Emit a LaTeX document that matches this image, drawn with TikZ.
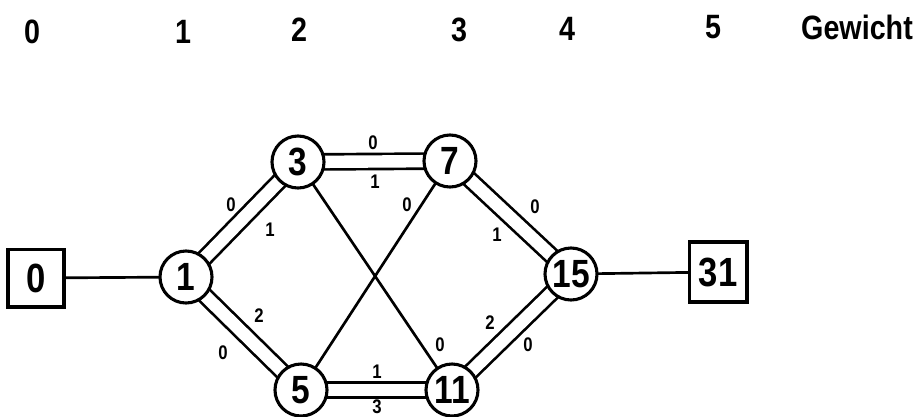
\documentclass[tikz,border=0pt]{standalone}
\usepackage{fontspec}
\setmainfont{Liberation Sans}[FakeStretch=0.85]
\usetikzlibrary{backgrounds}
\begin{document}
\begin{tikzpicture}[x=0.025cm,y=-0.025cm,
  circ/.style={circle,draw,line width=2.2pt,fill=white,minimum size=1.3cm,inner sep=0pt,
    font=\fontsize{28}{28}\selectfont\bfseries},
  sq/.style={rectangle,draw,line width=2.7pt,fill=white,inner sep=0pt,
    font=\fontsize{29}{29}\selectfont\bfseries},
  hdr/.style={font=\fontsize{24}{24}\selectfont\bfseries,inner sep=0pt},
  lbl/.style={font=\fontsize{14}{14}\selectfont\bfseries,inner sep=0pt},
  dbl/.style={double,line width=1.9pt,double distance=0.31cm},
  sgl/.style={line width=1.9pt}]
\useasboundingbox (0,0) rectangle (924,416);

% header
\node[hdr] (h0) at (32,32) {0};
\node[hdr] (h1) at (183,32) {1};
\node[hdr] (h2) at (299,30) {2};
\node[hdr] (h3) at (459,30) {3};
\node[hdr] (h4) at (567,29) {4};
\node[hdr] (h5) at (713,27) {5};
\node[hdr] (hg) at (857,27) {Gewicht};

% nodes
\node[sq,minimum width=1.38cm,minimum height=1.43cm] (b0) at (36,278) {0};
\node[circ] (n1) at (186,277) {1};
\node[circ] (n3) at (298,162) {3};
\node[circ] (n7) at (450,161) {7};
\node[circ] (n5) at (301,390) {5};
\node[circ] (n11) at (452,390) {11};
\node[circ] (n15) at (571,274) {15};
\node[sq,minimum width=1.43cm,minimum height=1.5cm] (b31) at (718,272) {31};

% edges
\begin{scope}[on background layer]
\fill[white] (0,0) rectangle (924,416);
\draw[sgl] (b0.center) -- (n1.center);
\draw[sgl] (n15.center) -- (b31.center);
\draw[dbl] (n1.center) -- (n3.center);
\draw[dbl] (n1.center) -- (n5.center);
\draw[dbl] (n3.center) -- (n7.center);
\draw[dbl] (n5.center) -- (n11.center);
\draw[dbl] (n7.center) -- (n15.center);
\draw[dbl] (n11.center) -- (n15.center);
\draw[sgl] (n3.center) -- (n11.center);
\draw[sgl] (n7.center) -- (n5.center);
\end{scope}

% edge labels
\node[lbl] (l13a) at (231,205) {0};
\node[lbl] (l13b) at (270,230) {1};
\node[lbl] (l37a) at (373,143) {0};
\node[lbl] (l37b) at (375,182) {1};
\node[lbl] (l715a) at (535,207) {0};
\node[lbl] (l715b) at (497,235) {1};
\node[lbl] (l15a) at (259,316) {2};
\node[lbl] (l15b) at (223,353) {0};
\node[lbl] (l511a) at (377,372) {1};
\node[lbl] (l511b) at (377,407) {3};
\node[lbl] (l1115a) at (490,323) {2};
\node[lbl] (l1115b) at (528,345) {0};
\node[lbl] (l57) at (407,205) {0};
\node[lbl] (l311) at (440,345) {0};
\end{tikzpicture}
\end{document}
